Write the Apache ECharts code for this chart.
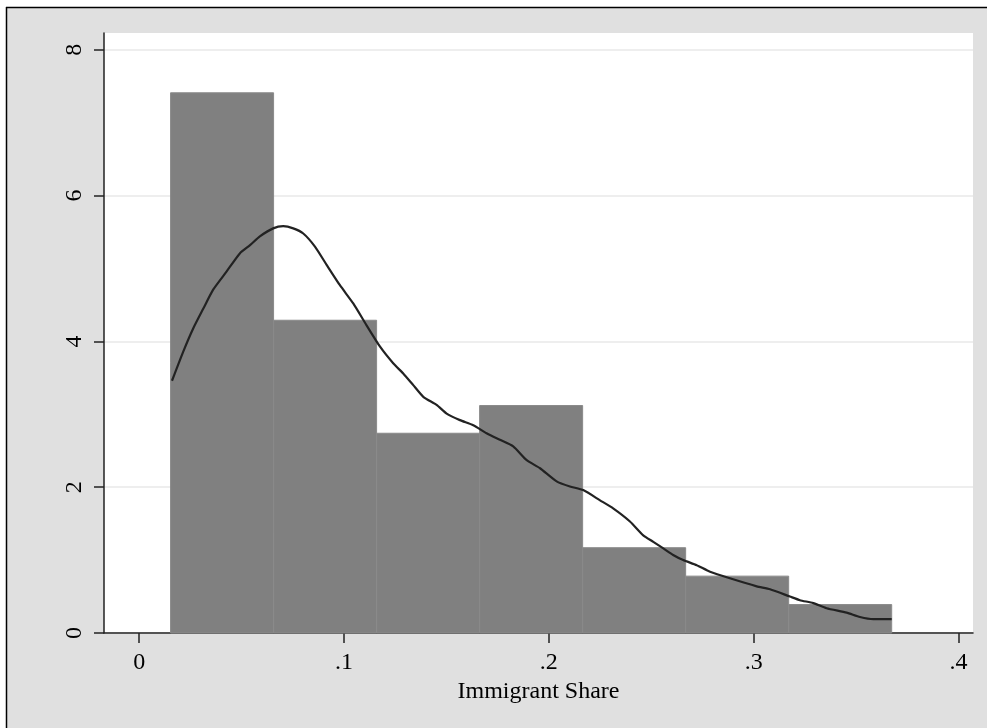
<!DOCTYPE html>
<html><head><meta charset="utf-8">
<script src="https://cdn.jsdelivr.net/npm/echarts@6/dist/echarts.min.js"></script>
<style>html,body{margin:0;padding:0;background:#fff}#c{width:987px;height:728px}</style>
</head><body><div id="c"></div>
<script>
// Histogram bins (Immigrant Share) and densities
const binEdges = [0.0153, 0.0656, 0.1159, 0.1662, 0.2165, 0.2668, 0.3171, 0.3674];
const densities = [7.41, 4.29, 2.74, 3.12, 1.17, 0.78, 0.39];
// Kernel density estimate
const kdeX = [0.0160,0.0215,0.0264,0.0313,0.0361,0.0427,0.0492,0.0541,0.0589,0.0654,0.0703,0.0752,0.0801,0.0858,0.0915,0.0980,0.1045,0.1110,0.1175,0.1240,0.1289,0.1338,0.1387,0.1452,0.1501,0.1566,0.1631,0.1696,0.1761,0.1826,0.1892,0.1957,0.2038,0.2103,0.2168,0.2250,0.2314,0.2396,0.2461,0.2510,0.2559,0.2607,0.2656,0.2722,0.2787,0.2884,0.3015,0.3080,0.3177,0.3226,0.3291,0.3356,0.3454,0.3519,0.3584,0.3674];
const kdeY = [3.46,3.86,4.18,4.45,4.71,4.96,5.21,5.32,5.44,5.55,5.58,5.55,5.48,5.30,5.05,4.77,4.52,4.22,3.93,3.70,3.56,3.40,3.24,3.13,3.01,2.92,2.85,2.74,2.65,2.56,2.37,2.26,2.08,2.01,1.96,1.82,1.71,1.53,1.34,1.25,1.16,1.07,1.00,0.93,0.84,0.75,0.64,0.60,0.50,0.45,0.41,0.34,0.28,0.22,0.19,0.19];
const xTicks = [0, 0.1, 0.2, 0.3, 0.4];
const xLabels = ['0', '.1', '.2', '.3', '.4'];
const yTicks = [0, 2, 4, 6, 8];
const yLabels = ['0', '2', '4', '6', '8'];
const xTitle = 'Immigrant Share';

const histData = densities.map((d, i) => [binEdges[i], binEdges[i + 1], d]);
const kdeData = kdeX.map((x, i) => [x, kdeY[i]]);
const FONT = 'Liberation Serif';

const chart = echarts.init(document.getElementById('c'), null, {renderer: 'canvas'});
chart.setOption({
  backgroundColor: '#e0e0e0',
  animation: false,
  graphic: [
    {type: 'rect', shape: {x: 0, y: 0, width: 987, height: 7}, style: {fill: '#fff'}},
    {type: 'rect', shape: {x: 0, y: 0, width: 6, height: 728}, style: {fill: '#fff'}},
    {type: 'line', shape: {x1: 6, y1: 7.5, x2: 987, y2: 7.5}, style: {stroke: '#000', lineWidth: 1.5}},
    {type: 'line', shape: {x1: 6.5, y1: 7, x2: 6.5, y2: 728}, style: {stroke: '#000', lineWidth: 1.5}}
  ],
  grid: {left: 104, right: 14, top: 33, bottom: 95, show: true, backgroundColor: '#fff', borderWidth: 0},
  xAxis: {
    type: 'value', min: -0.0172, max: 0.4071,
    name: xTitle, nameLocation: 'middle', nameGap: 44,
    nameTextStyle: {fontFamily: FONT, fontSize: 24, color: '#000'},
    axisLine: {show: true, onZero: false, lineStyle: {color: '#222', width: 1.5}},
    axisTick: {show: true, customValues: xTicks, length: 10, lineStyle: {color: '#222', width: 1.5}},
    axisLabel: {customValues: xTicks, margin: 18, fontFamily: FONT, fontSize: 24, color: '#000',
      formatter: v => xLabels[Math.round(v * 10)]},
    splitLine: {show: false}
  },
  yAxis: {
    type: 'value', min: 0, max: 8.23, interval: 2,
    axisLine: {show: true, onZero: false, lineStyle: {color: '#222', width: 1.5}},
    axisTick: {show: true, customValues: yTicks, length: 10, lineStyle: {color: '#222', width: 1.5}},
    axisLabel: {customValues: yTicks, rotate: 90, margin: 17, fontFamily: FONT, fontSize: 24, color: '#000',
      formatter: v => yLabels[Math.round(v / 2)]},
    splitLine: {show: true, lineStyle: {color: '#eeeeee', width: 2}}
  },
  series: [
    {
      type: 'custom', z: 2,
      encode: {x: [0, 1], y: 2},
      data: histData,
      renderItem: (params, api) => {
        const p0 = api.coord([api.value(0), api.value(2)]);
        const p1 = api.coord([api.value(1), 0]);
        return {type: 'rect',
          shape: {x: p0[0], y: p0[1], width: p1[0] - p0[0], height: p1[1] - p0[1]},
          style: {fill: '#808080', stroke: '#8a8a8a', lineWidth: 1}};
      }
    },
    {
      type: 'line', z: 3, data: kdeData, showSymbol: false, smooth: 0.2,
      lineStyle: {color: '#222', width: 2.2}
    }
  ]
});
</script></body></html>
